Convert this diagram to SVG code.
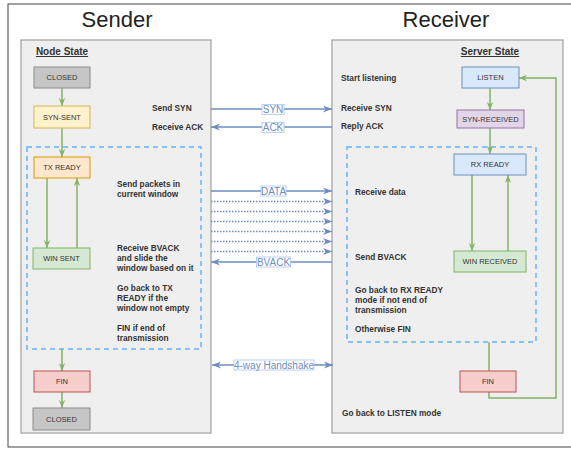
<svg xmlns="http://www.w3.org/2000/svg" width="571" height="449" viewBox="0 0 571 449">
  <style>
    .title { font-family: "Liberation Sans", Arial, sans-serif; font-size: 22px; fill: #222; text-anchor: middle; }
    .head { font-family: "Liberation Sans", Arial, sans-serif; font-size: 10px; font-weight: bold; fill: #333; text-anchor: middle; text-decoration: underline; }
    .note { font-family: "Liberation Sans", Arial, sans-serif; font-size: 8.3px; font-weight: bold; fill: #333; }
    .ntxt { font-family: "Liberation Sans", Arial, sans-serif; font-size: 7.5px; fill: #333; text-anchor: middle; }
    .ltxt { font-family: "Liberation Sans", Arial, sans-serif; font-size: 10px; fill: #6c8ebf; text-anchor: middle; }
    .lbox { fill: #ffffff; stroke: #a9c4eb; stroke-width: 0.8; }
    .panel { fill: #efefef; stroke: #9e9e9e; stroke-width: 1.2; }
    .group { fill: none; stroke: #66b2ff; stroke-width: 1.5; stroke-dasharray: 5 4; }
    .flow { fill: none; stroke: #82b366; stroke-width: 1.5; marker-end: url(#gArrow); }
    .msg { fill: none; stroke: #6c8ebf; stroke-width: 1.5; marker-end: url(#bArrow); }
    .dot { fill: none; stroke: #6c8ebf; stroke-width: 1.5; stroke-dasharray: 1.5 1.5; marker-end: url(#bArrow); }
    .gray { fill: #c6c6c6; stroke: #8c8c8c; }
    .yellow { fill: #fff2cc; stroke: #d6b656; }
    .orange { fill: #ffe6cc; stroke: #d79b00; }
    .green { fill: #d5e8d4; stroke: #82b366; }
    .red { fill: #f8cecc; stroke: #b85450; }
    .blue { fill: #dae8fc; stroke: #6c8ebf; }
    .purple { fill: #e1d5e7; stroke: #9673a6; }
  </style>
  <defs>
    <marker id="gArrow" viewBox="0 0 10 10" refX="10" refY="5" markerWidth="8" markerHeight="8" markerUnits="userSpaceOnUse" orient="auto">
      <path d="M0,1 L10,5 L0,9 L3,5 z" fill="#82b366"/>
    </marker>
    <marker id="bArrow" viewBox="0 0 10 10" refX="10" refY="5" markerWidth="9" markerHeight="9" markerUnits="userSpaceOnUse" orient="auto">
      <path d="M0,1 L10,5 L0,9 L3,5 z" fill="#6c8ebf"/>
    </marker>
    <marker id="bArrowStart" viewBox="0 0 10 10" refX="0" refY="5" markerWidth="9" markerHeight="9" markerUnits="userSpaceOnUse" orient="auto">
      <path d="M10,1 L0,5 L10,9 L7,5 z" fill="#6c8ebf"/>
    </marker>
  </defs>

  <!-- outer frame -->
  <rect x="8" y="4" width="580" height="443" fill="#ffffff" stroke="#444" stroke-width="1"/>

  <text class="title" x="117" y="27">Sender</text>
  <text class="title" x="446" y="27">Receiver</text>

  <!-- panels -->
  <rect class="panel" x="21" y="40" width="190" height="393"/>
  <rect class="panel" x="332" y="40" width="231" height="393"/>
  <text class="head" x="62" y="55">Node State</text>
  <text class="head" x="490" y="55">Server State</text>

  <!-- transfer loops -->
  <rect class="group" x="27" y="147" width="174" height="202"/>
  <rect class="group" x="347" y="147" width="189" height="195"/>

  <!-- notes -->
  <g id="sender-notes">
    <text class="note" x="152" y="110.5">Send SYN</text>
    <text class="note" x="152" y="129.5">Receive ACK</text>
    <text class="note" x="117" y="187">Send packets in</text>
    <text class="note" x="117" y="197">current window</text>
    <text class="note" x="117" y="250.5">Receive BVACK</text>
    <text class="note" x="117" y="260.5">and slide the</text>
    <text class="note" x="117" y="270.5">window based on it</text>
    <text class="note" x="117" y="290.5">Go back to TX</text>
    <text class="note" x="117" y="300.5">READY if the</text>
    <text class="note" x="117" y="310.5">window not empty</text>
    <text class="note" x="117" y="330.5">FIN if end of</text>
    <text class="note" x="117" y="340.5">transmission</text>
  </g>
  <g id="receiver-notes">
    <text class="note" x="341" y="80.5">Start listening</text>
    <text class="note" x="341" y="111">Receive SYN</text>
    <text class="note" x="341" y="129">Reply ACK</text>
    <text class="note" x="355" y="195">Receive data</text>
    <text class="note" x="355" y="260">Send BVACK</text>
    <text class="note" x="355" y="293">Go back to RX READY</text>
    <text class="note" x="355" y="303">mode if not end of</text>
    <text class="note" x="355" y="313">transmission</text>
    <text class="note" x="355" y="332">Otherwise FIN</text>
    <text class="note" x="342" y="416">Go back to LISTEN mode</text>
  </g>

  <!-- connectors -->
  <g id="connectors">
    <path class="flow" d="M62,88 L62,106"/>
    <path class="flow" d="M62,128 L62,157"/>
    <path class="flow" d="M47,178 L47,248"/>
    <path class="flow" d="M77,248 L77,178"/>
    <path class="flow" d="M62,349 L62,371"/>
    <path class="flow" d="M62,392 L62,408"/>
    <path class="flow" d="M490,88 L490,110"/>
    <path class="flow" d="M490,128 L490,154"/>
    <path class="flow" d="M472,175 L472,251"/>
    <path class="flow" d="M508,251 L508,175"/>
    <path class="flow" d="M489,342 L489,398 L556,398 L556,78 L519,78"/>

    <path class="msg" d="M211,109 L332,109"/>
    <path class="msg" d="M332,127 L211,127"/>
    <path class="msg" d="M211,191 L332,191"/>
    <path class="dot" d="M211,201.5 L332,201.5"/>
    <path class="dot" d="M211,211.5 L332,211.5"/>
    <path class="dot" d="M211,221.5 L332,221.5"/>
    <path class="dot" d="M211,231.5 L332,231.5"/>
    <path class="dot" d="M211,241.5 L332,241.5"/>
    <path class="dot" d="M211,251.5 L332,251.5"/>
    <path class="msg" d="M332,262 L211,262"/>
    <path class="msg" d="M212,365 L333,365" marker-start="url(#bArrowStart)"/>

    <rect class="lbox" x="262" y="104.5" width="22" height="10"/>
    <text class="ltxt" x="273" y="112.6">SYN</text>
    <rect class="lbox" x="262" y="122.5" width="22" height="10"/>
    <text class="ltxt" x="273" y="130.6">ACK</text>
    <rect class="lbox" x="261" y="186" width="25" height="10"/>
    <text class="ltxt" x="273.5" y="194.6">DATA</text>
    <rect class="lbox" x="256.5" y="257" width="34" height="10"/>
    <text class="ltxt" x="273.5" y="265.6">BVACK</text>
    <rect class="lbox" x="234" y="360" width="80" height="10"/>
    <text class="ltxt" x="274" y="368.6">4-way Handshake</text>
  </g>

  <!-- sender states -->
  <g id="s-closed"><rect class="gray" x="34" y="67" width="56" height="21"/><text class="ntxt" x="62" y="80.2">CLOSED</text></g>
  <g id="s-syn-sent"><rect class="yellow" x="34" y="106" width="56" height="22"/><text class="ntxt" x="62" y="119.7">SYN-SENT</text></g>
  <g id="s-tx-ready"><rect class="orange" x="34" y="157" width="56" height="21"/><text class="ntxt" x="62" y="170.2">TX READY</text></g>
  <g id="s-win-sent"><rect class="green" x="33" y="248" width="57" height="21"/><text class="ntxt" x="61.5" y="261.2">WIN SENT</text></g>
  <g id="s-fin"><rect class="red" x="34" y="371" width="56" height="21"/><text class="ntxt" x="62" y="384.2">FIN</text></g>
  <g id="s-closed-end"><rect class="gray" x="33" y="408" width="57" height="22"/><text class="ntxt" x="61.5" y="421.7">CLOSED</text></g>

  <!-- receiver states -->
  <g id="r-listen"><rect class="blue" x="462" y="67" width="57" height="21"/><text class="ntxt" x="490.5" y="80.2">LISTEN</text></g>
  <g id="r-syn-received"><rect class="purple" x="457" y="110" width="67" height="18"/><text class="ntxt" x="490.5" y="121.7">SYN-RECEIVED</text></g>
  <g id="r-rx-ready"><rect class="blue" x="454" y="154" width="72" height="21"/><text class="ntxt" x="490" y="167.2">RX READY</text></g>
  <g id="r-win-received"><rect class="green" x="454" y="251" width="72" height="21"/><text class="ntxt" x="490" y="264.2">WIN RECEIVED</text></g>
  <g id="r-fin"><rect class="red" x="460" y="371" width="56" height="21"/><text class="ntxt" x="488" y="384.2">FIN</text></g>
</svg>
